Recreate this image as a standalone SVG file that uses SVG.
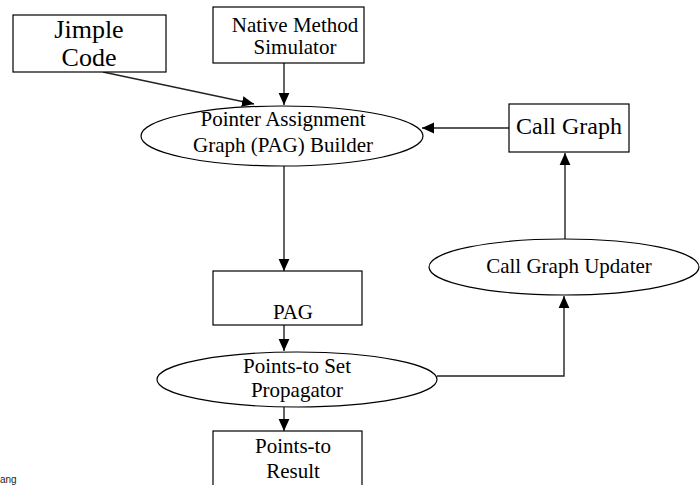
<svg xmlns="http://www.w3.org/2000/svg" width="700" height="485" viewBox="0 0 700 485">
<style>
.box{fill:#fff;stroke:#000;stroke-width:1.2}
.ell{fill:#fff;stroke:#000;stroke-width:1.2}
.t{font-family:"Liberation Serif","Times New Roman",serif;fill:#000;text-anchor:middle;font-size:21px}
.e{fill:none;stroke:#222;stroke-width:1.4}
</style>
<defs>
<marker id="ah" markerUnits="userSpaceOnUse" markerWidth="12" markerHeight="12" viewBox="0 0 10 10" refX="10" refY="5" orient="auto">
<path d="M0,0.5 L10,5 L0,9.5 Z" fill="#000"/>
</marker>
</defs>
<rect width="700" height="485" fill="#fff"/>
<g id="connectors">
<line class="e" x1="103" y1="72" x2="254" y2="104" marker-end="url(#ah)"/>
<line class="e" x1="284" y1="63" x2="284" y2="105" marker-end="url(#ah)"/>
<line class="e" x1="284" y1="166" x2="284" y2="271" marker-end="url(#ah)"/>
<line class="e" x1="284" y1="325" x2="284" y2="351" marker-end="url(#ah)"/>
<line class="e" x1="284" y1="407" x2="284" y2="431" marker-end="url(#ah)"/>
<polyline class="e" points="437,376 564,376 564,296" marker-end="url(#ah)"/>
<line class="e" x1="565" y1="239" x2="565" y2="153" marker-end="url(#ah)"/>
<line class="e" x1="509" y1="128" x2="422" y2="128" marker-end="url(#ah)"/>
</g>
<g id="jimple">
<rect class="box" x="13" y="15" width="153" height="57"/>
<text class="t" x="89" y="38" style="font-size:26px">Jimple</text>
<text class="t" x="89" y="66" style="font-size:26px">Code</text>
</g>
<g id="native">
<rect class="box" x="213" y="7" width="151" height="56"/>
<text class="t" x="295" y="31.5">Native Method</text>
<text class="t" x="295" y="53.5">Simulator</text>
</g>
<g id="builder">
<ellipse class="ell" cx="282" cy="136" rx="141" ry="30"/>
<text class="t" x="283" y="126">Pointer Assignment</text>
<text class="t" x="283" y="152">Graph (PAG) Builder</text>
</g>
<g id="callgraph">
<rect class="box" x="509" y="104" width="120" height="48"/>
<text class="t" x="569" y="134" style="font-size:24px">Call Graph</text>
</g>
<g id="updater">
<ellipse class="ell" cx="564" cy="267" rx="135" ry="28"/>
<text class="t" x="569" y="273">Call Graph Updater</text>
</g>
<g id="pag">
<rect class="box" x="213" y="271" width="149" height="54"/>
<text class="t" x="293" y="319">PAG</text>
</g>
<g id="propagator">
<ellipse class="ell" cx="297" cy="379.5" rx="140" ry="27.5"/>
<text class="t" x="297" y="373">Points-to Set</text>
<text class="t" x="297" y="397">Propagator</text>
</g>
<g id="result">
<rect class="box" x="213" y="431" width="149" height="60"/>
<text class="t" x="293" y="453">Points-to</text>
<text class="t" x="293" y="478">Result</text>
</g>
<text x="0" y="482.5" font-family="Liberation Sans,sans-serif" font-size="10" fill="#222">ang</text>
</svg>
